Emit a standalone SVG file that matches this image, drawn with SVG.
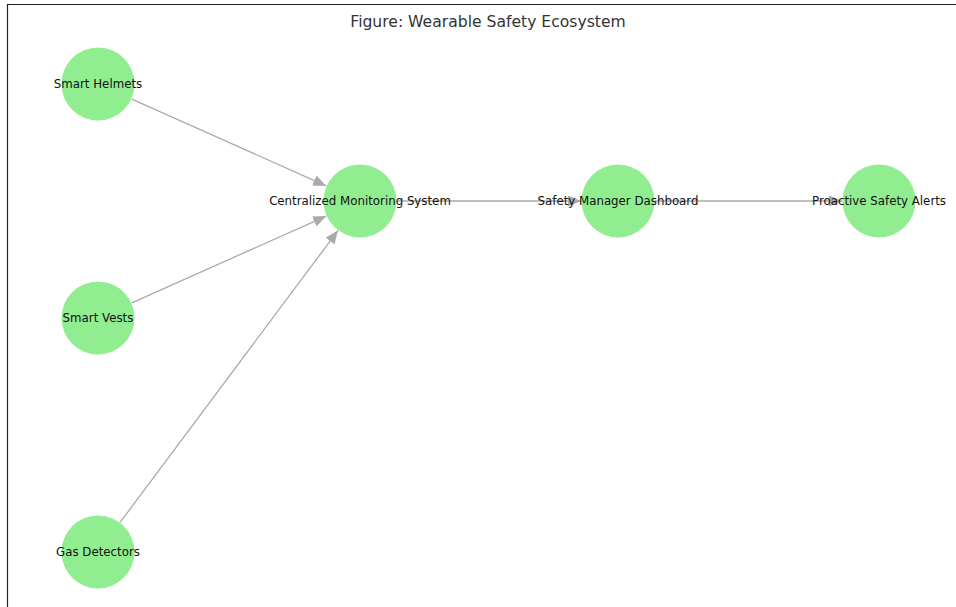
<svg xmlns="http://www.w3.org/2000/svg" width="956" height="607" viewBox="0 0 956 607">
<defs>
<style>
.node{fill:#90ee90}
.lbl{font-family:"DejaVu Sans",sans-serif;font-size:11.8px;fill:#111111;text-anchor:middle}
.edge{stroke:#aaaaaa;stroke-width:1.3;fill:none}
.title{font-family:"DejaVu Sans",sans-serif;font-size:15.6px;fill:#333333;text-anchor:middle}
</style>
<marker id="arr" markerWidth="14" markerHeight="11" refX="13" refY="5.5" orient="auto" markerUnits="userSpaceOnUse">
<path d="M0,0 L13,5.5 L0,11 z" fill="#aaaaaa"/>
</marker>
</defs>
<rect x="0" y="0" width="956" height="607" fill="#ffffff"/>
<path d="M7.5,607 V4.5 H956" stroke="#222222" stroke-width="1.2" fill="none"/>
<text class="title" x="488" y="27">Figure: Wearable Safety Ecosystem</text>
<g id="node-helmets"><circle class="node" cx="98" cy="84" r="36.5"/></g>
<g id="node-vests"><circle class="node" cx="98" cy="318" r="36.5"/></g>
<g id="node-gas"><circle class="node" cx="98" cy="552" r="36.5"/></g>
<g id="node-central"><circle class="node" cx="360" cy="201" r="36.5"/></g>
<g id="node-dashboard"><circle class="node" cx="618" cy="201" r="36.5"/></g>
<g id="node-alerts"><circle class="node" cx="879" cy="201" r="36.5"/></g>
<g id="connectors">
<line class="edge" x1="131.8" y1="99.1" x2="326.2" y2="185.9" marker-end="url(#arr)"/>
<line class="edge" x1="131.8" y1="302.9" x2="326.2" y2="216.1" marker-end="url(#arr)"/>
<line class="edge" x1="120.1" y1="522.4" x2="337.9" y2="230.6" marker-end="url(#arr)"/>
<line class="edge" x1="397" y1="201" x2="581" y2="201" marker-end="url(#arr)"/>
<line class="edge" x1="655" y1="201" x2="842" y2="201" marker-end="url(#arr)"/>
</g>
<g id="labels">
<text class="lbl" x="98" y="88">Smart Helmets</text>
<text class="lbl" x="98" y="322">Smart Vests</text>
<text class="lbl" x="98" y="556">Gas Detectors</text>
<text class="lbl" x="360" y="205">Centralized Monitoring System</text>
<text class="lbl" x="618" y="205">Safety Manager Dashboard</text>
<text class="lbl" x="879" y="205">Proactive Safety Alerts</text>
</g>
</svg>
